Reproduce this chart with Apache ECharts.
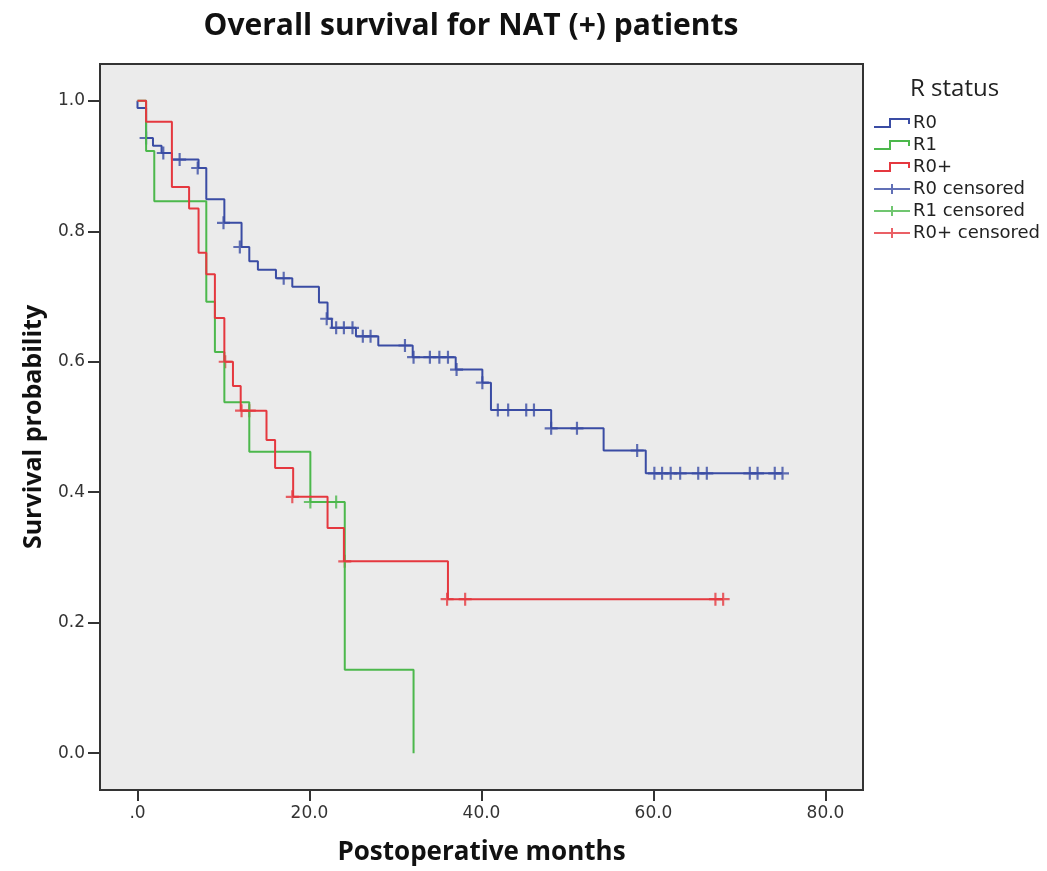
<!DOCTYPE html>
<html>
<head>
<meta charset="utf-8">
<title>Overall survival for NAT (+) patients</title>
<script src="https://cdn.jsdelivr.net/npm/echarts@6/dist/echarts.min.js"></script>
<style>
  html, body { margin: 0; padding: 0; background: #fff; }
  #chart { width: 1047px; height: 871px; }
</style>
</head>
<body>
<div id="chart"></div>
<script>
// Kaplan-Meier steps: month of each drop and the new survival value
const r0Months = [0, 0, 1.0, 1.8, 2.8, 4.0, 7.1, 8.0, 10.1, 12.1, 13.0, 14.0, 16.1, 18.0, 21.1, 22.1, 22.6, 25.4, 28.0, 32.0, 37.0, 40.1, 41.1, 48.1, 54.2, 59.1, 75.0]
const r0Surv = [1.0, 0.989, 0.943, 0.931, 0.920, 0.910, 0.897, 0.849, 0.813, 0.776, 0.754, 0.741, 0.728, 0.715, 0.691, 0.666, 0.652, 0.639, 0.625, 0.607, 0.588, 0.568, 0.526, 0.498, 0.464, 0.429, 0.429]

const r1Months = [0, 1.0, 1.95, 8.0, 9.0, 10.1, 13.0, 20.1, 24.1, 32.1]
const r1Surv = [1.0, 0.923, 0.846, 0.692, 0.615, 0.538, 0.462, 0.385, 0.128, 0.0]

const r0pMonths = [0, 1.0, 4.0, 6.0, 7.1, 8.0, 9.0, 10.1, 11.1, 12.0, 15.0, 16.0, 18.1, 22.1, 24.0, 36.1, 68.1]
const r0pSurv = [1.0, 0.968, 0.868, 0.835, 0.767, 0.734, 0.667, 0.600, 0.563, 0.525, 0.480, 0.437, 0.393, 0.345, 0.294, 0.236, 0.236]

// censored observations
const r0CensMonths = [1.0, 3.0, 4.9, 7.0, 10.0, 11.9, 17.0, 22.0, 23.1, 24.0, 25.0, 26.2, 27.1, 31.1, 32.1, 34.0, 35.1, 36.1, 37.1, 40.1, 41.9, 43.1, 45.2, 46.1, 48.1, 51.1, 58.1, 60.1, 61.0, 62.0, 63.1, 65.2, 66.2, 71.2, 72.1, 74.1, 75.0]
const r0CensSurv = [0.943, 0.920, 0.910, 0.897, 0.813, 0.776, 0.728, 0.666, 0.652, 0.652, 0.652, 0.639, 0.639, 0.625, 0.607, 0.607, 0.607, 0.607, 0.588, 0.568, 0.526, 0.526, 0.526, 0.526, 0.498, 0.498, 0.464, 0.429, 0.429, 0.429, 0.429, 0.429, 0.429, 0.429, 0.429, 0.429, 0.429]

const r1CensMonths = [20.1, 23.1]
const r1CensSurv = [0.385, 0.385]

const r0pCensMonths = [10.2, 12.1, 13.0, 18.0, 24.1, 36.0, 38.1, 67.2, 68.1]
const r0pCensSurv = [0.600, 0.525, 0.525, 0.393, 0.294, 0.236, 0.236, 0.236, 0.236]

const groupNames = ['R0', 'R1', 'R0+']
const groupColors = ['#3a4ca4', '#4cb84c', '#e5383f']

const xTicks = [0, 20, 40, 60, 80]
const xTickLabels = ['.0', '20.0', '40.0', '60.0', '80.0']
const yTicks = [0, 0.2, 0.4, 0.6, 0.8, 1.0]
const yTickLabels = ['0.0', '0.2', '0.4', '0.6', '0.8', '1.0']

const pairs = (xs, ys) => xs.map((x, i) => [x, ys[i]])
const labelFor = (ticks, labels) => v => {
  const i = ticks.findIndex(t => Math.abs(t - v) < 1e-6)
  return i < 0 ? '' : labels[i]
}

const stepIcon = 'path://M0,8L15,8L15,0L36,0L36,6L34,6L34,2L17,2L17,10L0,10Z'
const crossLegendIcon = 'path://M0,4L17,4L17,0L19,0L19,4L36,4L36,6L19,6L19,10L17,10L17,6L0,6Z'
const crossMark = 'path://M5,0L7,0L7,5L12,5L12,7L7,7L7,12L5,12L5,7L0,7L0,5L5,5Z'

const chart = echarts.init(document.getElementById('chart'), null, { renderer: 'canvas' })

const stepData = [pairs(r0Months, r0Surv), pairs(r1Months, r1Surv), pairs(r0pMonths, r0pSurv)]
const censData = [pairs(r0CensMonths, r0CensSurv), pairs(r1CensMonths, r1CensSurv), pairs(r0pCensMonths, r0pCensSurv)]

const series = []
groupNames.forEach((name, i) => {
  series.push({
    name: name,
    type: 'line',
    step: 'end',
    showSymbol: false,
    color: groupColors[i],
    lineStyle: { color: groupColors[i], width: 2 },
    data: stepData[i]
  })
})
groupNames.forEach((name, i) => {
  series.push({
    name: name + ' censored',
    type: 'scatter',
    symbol: crossMark,
    symbolSize: 13,
    color: groupColors[i],
    itemStyle: { color: groupColors[i] },
    data: censData[i]
  })
})

const option = {
  animation: false,
  backgroundColor: '#ffffff',
  title: [
    {
      text: 'Overall survival for NAT (+) patients',
      left: 466,
      top: 6,
      textAlign: 'center',
      textStyle: { fontFamily: 'Open Sans', fontWeight: 'bold', fontSize: 30, color: '#111' }
    },
    {
      text: 'R status',
      left: 905,
      top: 72,
      textStyle: { fontFamily: 'Open Sans', fontWeight: 'normal', fontSize: 24, color: '#222' }
    }
  ],
  legend: {
    orient: 'vertical',
    left: 869,
    top: 109,
    itemWidth: 36,
    itemHeight: 10,
    itemGap: 4,
    selectedMode: false,
    itemStyle: { borderWidth: 0 },
    textStyle: { fontFamily: 'DejaVu Sans', fontSize: 18, color: '#222', padding: [0, 0, 0, -2] },
    data: [
      { name: 'R0', icon: stepIcon },
      { name: 'R1', icon: stepIcon },
      { name: 'R0+', icon: stepIcon },
      { name: 'R0 censored', icon: crossLegendIcon },
      { name: 'R1 censored', icon: crossLegendIcon },
      { name: 'R0+ censored', icon: crossLegendIcon }
    ]
  },
  // framed plot box; axis ranges run a little past 0..80 and 0..1 like the original
  grid: { left: 100, top: 64, width: 763, height: 729, show: true, backgroundColor: '#ebebeb', borderColor: '#333', borderWidth: 2 },
  xAxis: {
    type: 'value',
    min: -4.36,
    max: 84.36,
    name: 'Postoperative months',
    nameLocation: 'middle',
    nameGap: 50,
    nameTextStyle: { fontFamily: 'Open Sans', fontWeight: 'bold', fontSize: 26, color: '#111' },
    axisLine: { show: false, onZero: false },
    axisTick: { show: true, length: 11, customValues: xTicks, lineStyle: { color: '#333', width: 2 } },
    axisLabel: {
      margin: 15,
      customValues: xTicks,
      fontFamily: 'DejaVu Sans',
      fontSize: 17,
      color: '#333',
      formatter: labelFor(xTicks, xTickLabels)
    },
    splitLine: { show: false }
  },
  yAxis: {
    type: 'value',
    min: -0.0565,
    max: 1.0565,
    name: 'Survival probability',
    nameLocation: 'middle',
    nameRotate: 90,
    nameGap: 54,
    nameTextStyle: { fontFamily: 'Open Sans', fontWeight: 'bold', fontSize: 25, color: '#111' },
    axisLine: { show: false, onZero: false },
    axisTick: { show: true, length: 12, customValues: yTicks, lineStyle: { color: '#333', width: 2 } },
    axisLabel: {
      margin: 15,
      customValues: yTicks,
      fontFamily: 'DejaVu Sans',
      fontSize: 17,
      color: '#333',
      formatter: labelFor(yTicks, yTickLabels)
    },
    splitLine: { show: false }
  },
  series: series
}

chart.setOption(option)
</script>
</body>
</html>
